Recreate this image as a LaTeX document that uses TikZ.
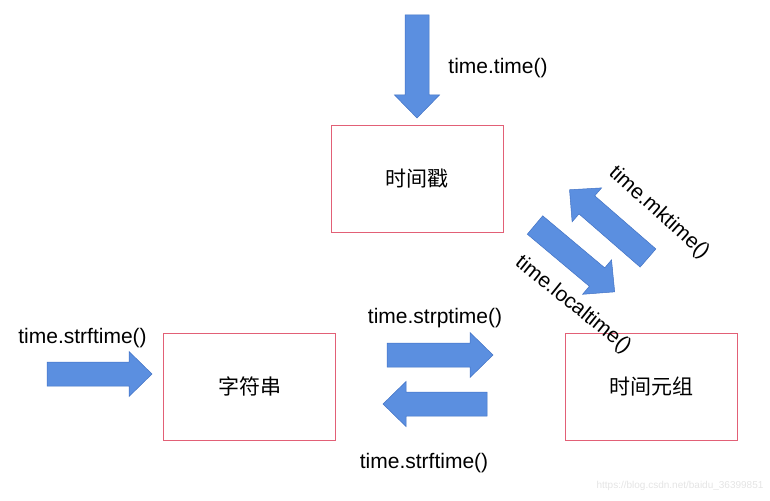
\documentclass[tikz,border=0pt]{standalone}
\usepackage{fontspec}
\setmainfont{Liberation Sans}
\newfontfamily\cjk{Noto Sans CJK SC}
\definecolor{boxred}{RGB}{226,96,118}
\definecolor{arrfill}{RGB}{91,143,224}
\definecolor{arrdraw}{RGB}{66,114,196}
\newcommand\blockarr[4]{% x, y, angle, length
  \draw[barrow, shift={(#1,#2)}, rotate=#3]
    (0,12) -- ({#4-23},12) -- ({#4-23},22.5) -- (#4,0) -- ({#4-23},-22.5) -- ({#4-23},-12) -- (0,-12) -- cycle;}
\begin{document}
\begin{tikzpicture}[x=1pt,y=-1pt,
  box/.style={draw=boxred, line width=0.8pt, minimum width=172pt, minimum height=107pt, inner sep=0pt, font=\cjk\fontsize{21}{25}\selectfont},
  barrow/.style={fill=arrfill, draw=arrdraw, line width=0.5pt, line join=miter},
  lbl/.style={inner sep=0pt, font=\fontsize{21}{25}\selectfont}]
\useasboundingbox (0,0) rectangle (770,500);
% boxes
\node[box] (ts) at (417,178.5) {时间戳};
\node[box] (str) at (249.5,386.5) {字符串};
\node[box] (tup) at (651,386.5) {时间元组};
% block arrows
\blockarr{417}{15}{-90}{103}
\blockarr{47}{374}{0}{105}
\blockarr{387}{355}{0}{106}
\blockarr{487}{404}{180}{104}
\blockarr{535}{225}{-40}{104}
\blockarr{648}{258}{139}{104}
% labels
\node[lbl] (l1) at (498,68) {time.time()};
\node[lbl] (l2) at (82.5,338) {time.strftime()};
\node[lbl] (l3) at (435,318) {time.strptime()};
\node[lbl] (l4) at (424,463) {time.strftime()};
\node[lbl, rotate=-42] (l5) at (659,213) {time.mktime()};
\node[lbl, rotate=-39] (l6) at (573,305) {time.localtime()};
\node[inner sep=0pt, text={rgb,255:red,228;green,228;blue,228}, font=\fontsize{10}{12}\selectfont] (wm) at (680,486) {https://blog.csdn.net/baidu\_36399851};
\end{tikzpicture}
\end{document}
